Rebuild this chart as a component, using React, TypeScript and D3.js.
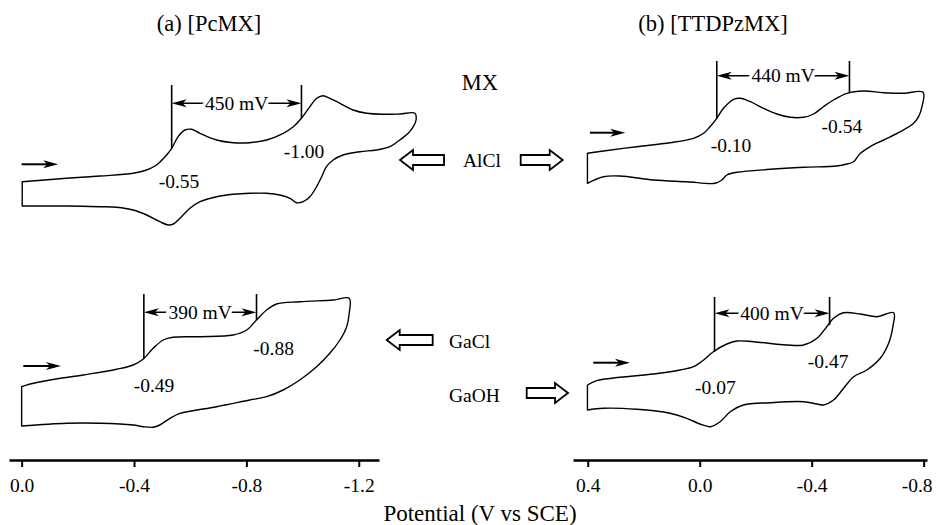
import React, { useEffect, useRef } from "react";
import * as d3 from "d3";

const W = 936;
const H = 525;
const SERIF = "'Liberation Serif', 'Times New Roman', serif";

// ticks of the two potential axes (V vs SCE)
const leftTicks = [0, -0.4, -0.8, -1.2];
const rightTicks = [0.4, 0, -0.4, -0.8];

const columnTitles = ["(a) [PcMX]", "(b) [TTDPzMX]"];
const axisTitle = "Potential (V vs SCE)";

// (a) PcAlCl: potential (V) and current (arb. units), forward scan then return
const pcAlClE = [
  -0.002, -0.16, -0.279, -0.397, -0.445, -0.48, -0.516, -0.534, -0.557, -0.581, -0.605, -0.635, -0.694,
  -0.753, -0.812, -0.872, -0.931, -0.967, -0.996, -1.026, -1.05, -1.073, -1.097, -1.133, -1.18, -1.228,
  -1.287, -1.346, -1.4,
  -1.404, -1.394, -1.376, -1.346, -1.311, -1.263, -1.204, -1.144, -1.109, -1.085, -1.068, -1.05, -1.026,
  -1.002, -0.979, -0.955, -0.919, -0.872, -0.812, -0.753, -0.694, -0.635, -0.599, -0.569, -0.54, -0.522,
  -0.492, -0.445, -0.397, -0.338, -0.279, -0.16, -0.002,
];
const pcAlClI = [
  48.3, 51.7, 54, 56.7, 60, 65, 75, 81.7, 93.3, 100, 100.7, 96.7, 90, 87.3, 87.3, 90, 96.7, 103.3, 111.7,
  123.3, 131.7, 134.3, 131.7, 126.7, 120, 116.7, 115.7, 116, 116.7,
  110, 103.3, 96.7, 90, 83.3, 80, 78.3, 75, 70, 63.3, 53.3, 43.3, 33.3, 28.3, 27.3, 31.7, 35, 36.7, 36.7,
  35.7, 33.3, 28.3, 21.7, 13.3, 6, 5, 8.3, 15, 20, 22.7, 23.3, 24, 24,
];
const pcAlClHalfWave = [-0.55, -1.0];
const pcAlClSplit = 450;

// (b) TTDPzAlCl
const tpAlClE = [
  0.401, 0.344, 0.225, 0.106, 0.022, -0.014, -0.037, -0.061, -0.085, -0.121, -0.145, -0.181, -0.228,
  -0.276, -0.323, -0.371, -0.407, -0.442, -0.478, -0.526, -0.585, -0.657, -0.728, -0.798,
  -0.794, -0.782, -0.764, -0.717, -0.657, -0.609, -0.574, -0.55, -0.526, -0.49, -0.371, -0.252, -0.133,
  -0.097, -0.079, -0.055, 0.046, 0.165, 0.285, 0.344, 0.401,
];
const tpAlClI = [
  76.7, 79, 83.3, 87.3, 91.7, 96.7, 103.3, 111.7, 121.7, 130.7, 131.7, 128.3, 121.7, 116, 112.7, 112.7,
  116, 123.3, 130, 136.7, 139, 137.3, 136.7, 137.7,
  123.3, 113.3, 106.7, 98.3, 90, 83.3, 76.7, 68.3, 66, 64, 62.7, 60.7, 57.7, 55, 50, 46.7, 48.3, 50, 54,
  53.3, 46.7,
];
const tpAlClHalfWave = [-0.1, -0.54];
const tpAlClSplit = 440;

// (a) PcGaCl
const pcGaClE = [
  0, -0.03, -0.101, -0.219, -0.338, -0.397, -0.433, -0.468, -0.504, -0.539, -0.635, -0.753, -0.801,
  -0.836, -0.872, -0.907, -0.99, -1.109, -1.166,
  -1.166, -1.157, -1.133, -1.097, -1.05, -0.99, -0.931, -0.872, -0.812, -0.694, -0.611, -0.563, -0.528,
  -0.492, -0.468, -0.433, -0.397, -0.279, -0.16, 0,
];
const pcGaClI = [
  43.3, 46, 50, 55, 60.7, 65, 71, 81.7, 90, 92.7, 93.3, 95, 100, 110, 120, 126, 128.3, 130, 131.7,
  116.7, 103.3, 90, 76.7, 63.3, 50, 40, 33.3, 30, 23.3, 19.3, 16.7, 11.7, 5, 2.7, 3.3, 5, 6.7, 6.7, 4,
];
const pcGaClHalfWave = [-0.49, -0.88];
const pcGaClSplit = 390;

// (b) TTDPzGaOH
const tpGaOHE = [
  0.401, 0.368, 0.285, 0.165, 0.07, 0.022, -0.014, -0.049, -0.097, -0.133, -0.192, -0.311, -0.371,
  -0.419, -0.454, -0.478, -0.514, -0.574, -0.633, -0.693,
  -0.69, -0.675, -0.645, -0.597, -0.55, -0.514, -0.478, -0.442, -0.419, -0.371, -0.252, -0.156, -0.109,
  -0.073, -0.037, -0.001, 0.046, 0.106, 0.225, 0.344, 0.401,
];
const tpGaOHI = [
  45, 49.3, 52.7, 56, 60, 63.3, 70, 78.3, 86, 89, 88.3, 85, 85, 91.7, 103.3, 111.7, 117.3, 116, 113.3,
  117.3,
  103.3, 86.7, 71.7, 60, 53.3, 41.7, 30, 25, 26, 28.3, 27.3, 25, 18.3, 8.3, 3.3, 6, 11.7, 16.7, 20.7,
  21.7, 20,
];
const tpGaOHHalfWave = [-0.07, -0.47];
const tpGaOHSplit = 400;

const xLeft = d3.scaleLinear().domain([0.045, -1.272]).range([9, 379]);
const xRight = d3.scaleLinear().domain([0.4526, -0.812]).range([573, 927]);
const yTop = d3.scaleLinear().domain([0, 140]).range([230, 90]);
const yBottom = d3.scaleLinear().domain([0, 140]).range([430, 290]);

type Scale = d3.ScaleLinear<number, number>;

const panels = [
  {
    e: pcAlClE, i: pcAlClI, x: xLeft, y: yTop, half: pcAlClHalfWave, split: pcAlClSplit,
    marks: [-0.534, -0.996], markLow: [81.7, 111.7], markTop: 145, spanI: 126.7,
    labelPos: [[-0.56, 41.7], [-1.005, 72]], arrow: [0, -0.13, 65.7],
  },
  {
    e: tpAlClE, i: tpAlClI, x: xRight, y: yTop, half: tpAlClHalfWave, split: tpAlClSplit,
    marks: [-0.061, -0.535], markLow: [111.7, 136.7], markTop: 169, spanI: 154.3,
    labelPos: [[-0.112, 78.3], [-0.508, 96.7]], arrow: [0.392, 0.266, 97.3],
  },
  {
    e: pcGaClE, i: pcGaClI, x: xLeft, y: yBottom, half: pcGaClHalfWave, split: pcGaClSplit,
    marks: [-0.435, -0.836], markLow: [71, 110], markTop: 136, spanI: 117.7,
    labelPos: [[-0.471, 38.3], [-0.897, 75]], arrow: [-0.006, -0.14, 64],
  },
  {
    e: tpGaOHE, i: tpGaOHI, x: xRight, y: yBottom, half: tpGaOHHalfWave, split: tpGaOHSplit,
    marks: [-0.053, -0.464], markLow: [78.3, 105], markTop: 133, spanI: 116.7,
    labelPos: [[-0.056, 36], [-0.459, 61.7]], arrow: [0.38, 0.249, 67.3],
  },
];

function Axis({ scale, ticks, y, lastShift = 0 }: { scale: Scale; ticks: number[]; y: number; lastShift?: number }) {
  const ref = useRef<SVGGElement>(null);
  useEffect(() => {
    const g = d3.select(ref.current!);
    g.selectAll("*").remove();
    g.call(
      d3
        .axisBottom(scale)
        .tickValues(ticks)
        .tickSize(7)
        .tickSizeOuter(0)
        .tickFormat((d) => (+d).toFixed(1))
    );
    g.attr("font-size", null).attr("font-family", null);
    g.select(".domain").attr("stroke-width", 2.4);
    g.selectAll(".tick line").attr("stroke-width", 2);
    g.selectAll(".tick text")
      .attr("y", 18)
      .attr("font-size", 19.5)
      .attr("font-family", SERIF);
    // keep the outermost label inside the page
    g.selectAll<SVGTextElement, number>(".tick text")
      .filter((_d, k) => k === ticks.length - 1)
      .attr("dx", lastShift);
  }, [scale, ticks, lastShift]);
  return <g ref={ref} transform={`translate(0,${y})`} />;
}

function head(x: number, y: number, dir: number) {
  // filled arrow head, tip at (x, y), pointing along dir (+1 right, -1 left)
  return `M${x},${y}L${x - dir * 15},${y - 4}L${x - dir * 11},${y}L${x - dir * 15},${y + 4}Z`;
}

function hollow(tip: number, tail: number, cy: number) {
  const dir = tail > tip ? 1 : -1;
  const b = tip + dir * 13;
  return `M${tip},${cy}L${b},${cy - 10}L${b},${cy - 5}L${tail},${cy - 5}L${tail},${cy + 5}L${b},${cy + 5}L${b},${cy + 10}Z`;
}

function Voltammogram({ p }: { p: (typeof panels)[number] }) {
  const { x, y } = p;
  const line = d3
    .line<number>()
    .x((k) => x(p.e[k]))
    .y((k) => y(p.i[k]))
    .curve(d3.curveCatmullRom.alpha(0.5));
  const d = line(d3.range(p.e.length)) + "Z";
  const x0 = x(p.marks[0]);
  const x1 = x(p.marks[1]);
  const ys = y(p.spanI);
  const ax0 = x(p.arrow[0]);
  const ax1 = x(p.arrow[1]);
  const ay = y(p.arrow[2]);
  return (
    <g>
      <path d={d} fill="none" stroke="#000" strokeWidth={1.4} strokeLinejoin="round" />
      {p.marks.map((m, k) => (
        <line key={k} x1={x(m)} x2={x(m)} y1={y(p.markLow[k])} y2={y(p.markTop)} stroke="#000" strokeWidth={1.6} />
      ))}
      <line x1={x0 + 8} x2={x1 - 8} y1={ys} y2={ys} stroke="#000" strokeWidth={1.6} />
      <path d={head(x0, ys, -1)} fill="#000" />
      <path d={head(x1, ys, 1)} fill="#000" />
      <text
        x={(x0 + x1) / 2}
        y={ys + 6.5}
        textAnchor="middle"
        fontSize={19.5}
        stroke="#fff"
        strokeWidth={7}
        paintOrder="stroke"
      >
        {`${p.split} mV`}
      </text>
      {p.half.map((v, k) => (
        <text key={k} x={x(p.labelPos[k][0])} y={y(p.labelPos[k][1])} textAnchor="middle" fontSize={19.5}>
          {v.toFixed(2)}
        </text>
      ))}
      <line x1={ax0} x2={ax1 - 9} y1={ay} y2={ay} stroke="#000" strokeWidth={2} />
      <path d={head(ax1, ay, 1)} fill="#000" />
    </g>
  );
}

export default function App() {
  return (
    <svg
      width={W}
      height={H}
      viewBox={`0 0 ${W} ${H}`}
      fontFamily={SERIF}
      style={{ position: "absolute", left: 0, top: 0, display: "block" }}
    >
      <rect width={W} height={H} fill="#fff" />
      <text x={209} y={31} textAnchor="middle" fontSize={22.5}>{columnTitles[0]}</text>
      <text x={713} y={31} textAnchor="middle" fontSize={22.5}>{columnTitles[1]}</text>
      {panels.map((p, k) => (
        <Voltammogram key={k} p={p} />
      ))}
      <text x={480} y={90} textAnchor="middle" fontSize={22.5}>MX</text>
      <path d={hollow(400, 444, 160)} fill="#fff" stroke="#000" strokeWidth={1.8} />
      <text x={482} y={167} textAnchor="middle" fontSize={19.5}>AlCl</text>
      <path d={hollow(562.7, 520.7, 160)} fill="#fff" stroke="#000" strokeWidth={1.8} />
      <path d={hollow(386.7, 432.7, 340)} fill="#fff" stroke="#000" strokeWidth={1.8} />
      <text x={449} y={348} fontSize={19.5}>GaCl</text>
      <text x={449} y={401.5} fontSize={19.5}>GaOH</text>
      <path d={hollow(568, 526.7, 393)} fill="#fff" stroke="#000" strokeWidth={1.8} />
      <Axis scale={xLeft} ticks={leftTicks} y={460} />
      <Axis scale={xRight} ticks={rightTicks} y={460} lastShift={-7} />
      <text x={480} y={521} textAnchor="middle" fontSize={23}>{axisTitle}</text>
    </svg>
  );
}
